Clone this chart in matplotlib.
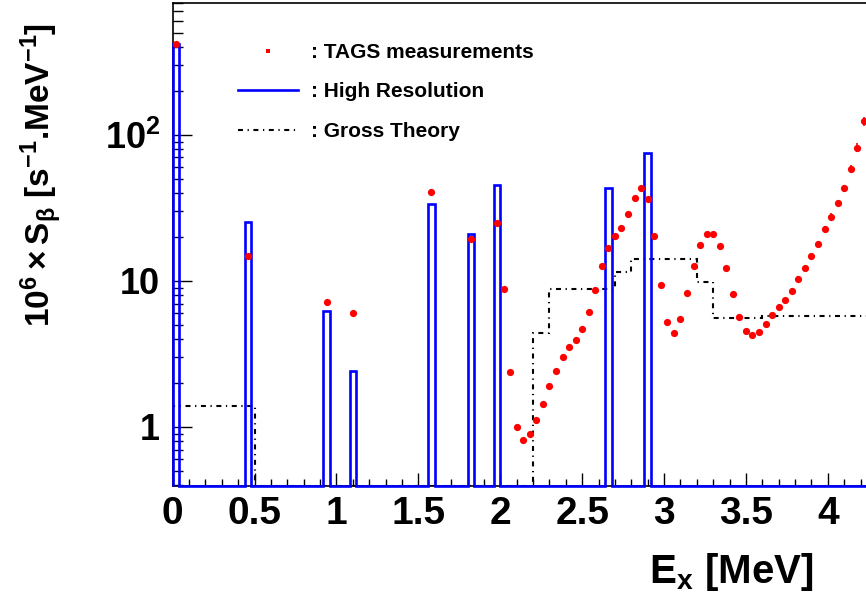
import numpy as np
import matplotlib
matplotlib.use("Agg")
import matplotlib.pyplot as plt
from matplotlib.lines import Line2D
from matplotlib.ticker import FixedLocator, LogLocator, NullFormatter, FuncFormatter

plt.rcParams["font.family"] = ["Liberation Sans", "DejaVu Sans"]
plt.rcParams["font.weight"] = "bold"
plt.rcParams["mathtext.fontset"] = "custom"
plt.rcParams["mathtext.rm"] = "Liberation Sans:bold"
plt.rcParams["mathtext.bf"] = "Liberation Sans:bold"
plt.rcParams["mathtext.it"] = "Liberation Sans:bold"
plt.rcParams["mathtext.default"] = "bf"

# TAGS measurements (40 keV bin centres)
tags_e = [0.02, 0.46, 0.94, 1.10, 1.58, 1.82, 1.98, 2.02, 2.06, 2.10,
          2.14, 2.18, 2.22, 2.26, 2.30, 2.34, 2.38, 2.42, 2.46, 2.50,
          2.54, 2.58, 2.62, 2.66, 2.70, 2.74, 2.78, 2.82, 2.86, 2.90,
          2.94, 2.98, 3.02, 3.06, 3.10, 3.14, 3.18, 3.22, 3.26, 3.30,
          3.34, 3.38, 3.42, 3.46, 3.50, 3.54, 3.58, 3.62, 3.66, 3.70,
          3.74, 3.78, 3.82, 3.86, 3.90, 3.94, 3.98, 4.02, 4.06, 4.10,
          4.14, 4.18, 4.22]
tags_s = [420, 14.7, 7.2, 6.0, 40.7, 19.4, 25.1, 8.8, 2.37, 1.00,
          0.81, 0.90, 1.11, 1.44, 1.91, 2.42, 3.02, 3.53, 3.92, 4.71,
          6.16, 8.63, 12.6, 16.9, 20.2, 23.1, 28.5, 36.8, 43.3, 36.5,
          20.3, 9.4, 5.26, 4.43, 5.47, 8.32, 12.7, 17.5, 21.0, 21.0,
          17.4, 12.2, 8.11, 5.69, 4.57, 4.27, 4.50, 5.10, 5.83, 6.60,
          7.41, 8.59, 10.3, 12.2, 14.7, 18.0, 22.5, 27.6, 34.0, 43.2,
          58.5, 81.8, 124]
tags_err = [5, 0.3, 0.2, 0.2, 0.6, 0.3, 0.4, 0.2, 0.05, 0.03,
            0.03, 0.03, 0.03, 0.04, 0.05, 0.06, 0.07, 0.08, 0.09, 0.1,
            0.13, 0.18, 0.26, 0.35, 0.42, 0.5, 0.6, 0.8, 0.9, 0.8,
            0.45, 0.22, 0.13, 0.11, 0.14, 0.21, 0.32, 0.45, 0.55, 0.55,
            0.5, 0.35, 0.24, 0.17, 0.14, 0.14, 0.15, 0.17, 0.2, 0.24,
            0.28, 0.34, 0.42, 0.52, 0.65, 0.85, 1.1, 1.4, 1.8, 2.4,
            3.5, 5.5, 9.5]

# High resolution histogram: 40 keV bins, non-empty bins only
hr_bin = 0.04
hr_left = [0.00, 0.44, 0.92, 1.08, 1.56, 1.80, 1.96, 2.64, 2.88]
hr_height = [418, 25.2, 6.23, 2.43, 33.7, 20.9, 45.4, 43.4, 75.3]

# Gross theory histogram
gt_edges = [0.0, 0.5, 2.2, 2.3, 2.7, 2.8, 3.2, 3.3, 3.6, 4.3]
gt_values = [1.4, 0, 4.4, 8.8, 11.5, 14.2, 9.8, 5.6, 5.75]

x_max = 4.233
y_min, y_max = 0.394, 800

W, H = 866, 598
fig = plt.figure(figsize=(W / 100, H / 100), dpi=100)
ax = fig.add_axes([172.7 / W, (H - 486) / H, 1 - 172.7 / W, (486 - 3) / H])
ax.set_yscale("log")
ax.set_xlim(0, x_max)
ax.set_ylim(y_min, y_max)

# high resolution as a full stairs histogram
n_bins = int(round(4.28 / hr_bin))
hr_edges = np.arange(n_bins + 1) * hr_bin
hr_vals = np.full(n_bins, y_min)
for left, h in zip(hr_left, hr_height):
    hr_vals[int(round(left / hr_bin))] = h
ax.stairs(hr_vals, hr_edges, baseline=y_min, color="#0000ff", lw=1.9,
          clip_on=False, zorder=3)

gt_style = (0, (2.4, 2.2, 0.6, 2.2))
gt_vals = np.where(np.array(gt_values) > 0, gt_values, y_min)
ax.stairs(gt_vals, gt_edges, baseline=y_min, color="black", lw=1.5,
          linestyle=gt_style, zorder=2)

ax.errorbar(tags_e, tags_s, yerr=tags_err, fmt="o", color="#ff0000",
            ms=5.2, mew=0, elinewidth=1.2, capsize=0, zorder=4)

# axes cosmetics (ROOT style)
for side in ["left", "bottom", "top"]:
    ax.spines[side].set_linewidth(1.2)
ax.spines["right"].set_visible(False)

ax.xaxis.set_major_locator(FixedLocator(np.arange(0, 4.5, 0.5)))
ax.xaxis.set_minor_locator(FixedLocator(np.arange(0, 4.3, 0.1)))
ax.xaxis.set_major_formatter(FuncFormatter(lambda v, p: f"{v:g}"))
ax.tick_params(axis="x", which="major", direction="in", length=9.5, width=1,
               labelsize=28, pad=7)
ax.tick_params(axis="x", which="minor", direction="in", length=5, width=1)

ax.yaxis.set_major_locator(FixedLocator([1, 10, 100]))
ax.yaxis.set_minor_locator(LogLocator(base=10, subs=np.arange(2, 10)))
ax.yaxis.set_minor_formatter(NullFormatter())
ylabels = {1: "1", 10: "10", 100: "$10^{2}$"}
ax.yaxis.set_major_formatter(FuncFormatter(lambda v, p: ylabels.get(int(round(v)), "")))
ax.tick_params(axis="y", which="major", direction="in", length=14, width=1,
               labelsize=26, pad=9)
ax.tick_params(axis="y", which="minor", direction="in", length=7, width=1)

fig.text(813 / W, (H - 583) / H, "E$_{x}$ [MeV]", ha="right", va="baseline",
         fontsize=29, fontweight="bold")
fig.text(42 / W, (H - 175) / H,
         r"$10^{6}\times S_{\beta}$ [s$^{-1}$.MeV$^{-1}$]",
         rotation=90, ha="center", va="center", fontsize=24, fontweight="bold")

handles = [Line2D([], [], marker="s", color="#ff0000", ls="none", ms=3.5, mew=0),
           Line2D([], [], color="#0000ff", lw=1.9),
           Line2D([], [], color="black", lw=1.5, linestyle=gt_style)]
labels = [": TAGS measurements", ": High Resolution", ": Gross Theory"]
ax.legend(handles, labels, loc="upper left", bbox_to_anchor=(238 / W, (H - 43) / H),
          bbox_transform=fig.transFigure, frameon=False, fontsize=15,
          handlelength=2.9, handletextpad=0.6, labelspacing=0.98,
          borderpad=0, borderaxespad=0)

fig.savefig("out.png", dpi=100)
